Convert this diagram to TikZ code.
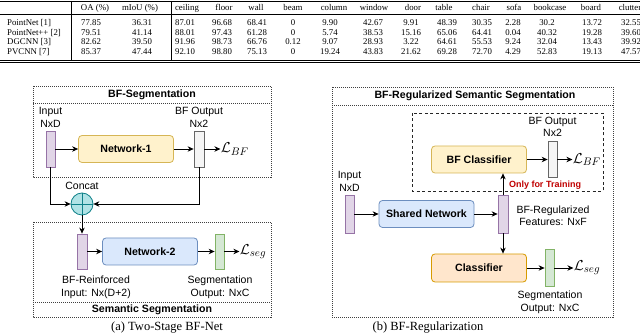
\documentclass[tikz,border=0pt]{standalone}
\usepackage{fontspec}
\setmainfont{Liberation Serif}
\setsansfont{Liberation Sans}
\usepackage{amsmath}
\usetikzlibrary{positioning,arrows.meta}

\definecolor{purfill}{HTML}{E1D5E7}\definecolor{purline}{HTML}{9673A6}
\definecolor{yelfill}{HTML}{FFF2CC}\definecolor{yelline}{HTML}{D6B656}
\definecolor{gryfill}{HTML}{F5F5F5}\definecolor{gryline}{HTML}{666666}
\definecolor{blufill}{HTML}{DAE8FC}\definecolor{bluline}{HTML}{6C8EBF}
\definecolor{grnfill}{HTML}{D5E8D4}\definecolor{grnline}{HTML}{82B366}
\definecolor{orgfill}{HTML}{FFE6CC}\definecolor{orgline}{HTML}{D79B00}
\definecolor{catfill}{HTML}{B0E3E6}\definecolor{catline}{HTML}{0E8088}
\definecolor{trainred}{HTML}{C00000}

% x positions of the table columns
\def\headx{{95,140,187,224,256,293,334,374,413,444,481,514,550,591,630}}
\def\colx{{91,142,185,222,257,293,330,373,411,447,482,513,547,592,631}}
\newcommand{\tabrow}[4]{% row id, baseline, name, values
  \node[tabtxt, anchor=base west] (r#1name) at (7,#2) {#3};
  \foreach \v [count=\i from 0] in {#4} {
    \pgfmathsetmacro\xx{\colx[\i]}
    \node[tabtxt, anchor=base] (r#1c\i) at (\xx,#2) {\v};}}

\begin{document}
\begin{tikzpicture}[x=1pt, y=-1pt,
    tabtxt/.style={font=\rmfamily\fontsize{8.8}{10}\selectfont, inner sep=0pt},
    bar/.style={draw, line width=0.8pt, minimum width=9pt, minimum height=36pt, inner sep=0pt},
    purp/.style={fill=purfill, draw=purline},
    gry/.style={fill=gryfill, draw=gryline},
    grn/.style={fill=grnfill, draw=grnline},
    net/.style={draw, rounded corners=3.5pt, line width=0.8pt, minimum width=95pt, minimum height=27pt,
        font=\sffamily\bfseries\fontsize{10.6}{12}\selectfont},
    yel/.style={fill=yelfill, draw=yelline},
    blu/.style={fill=blufill, draw=bluline},
    org/.style={fill=orgfill, draw=orgline},
    lbl/.style={font=\sffamily\fontsize{10.5}{12.5}\selectfont, align=center, inner sep=0pt},
    ttl/.style={font=\sffamily\bfseries\fontsize{10.6}{12}\selectfont, inner sep=0pt},
    loss/.style={font=\fontsize{15}{17}\selectfont, inner sep=0.3pt},
    captxt/.style={font=\rmfamily\fontsize{12.5}{14}\selectfont, inner sep=0pt},
    train/.style={font=\sffamily\bfseries\fontsize{9}{11}\selectfont, text=trainred, inner sep=0pt},
    grp/.style={draw=black!75, line width=0.6pt, dash pattern=on 1pt off 1pt},
    trainbox/.style={draw=black!85, line width=0.9pt, dash pattern=on 3pt off 2.5pt},
    arr/.style={-{Stealth[length=6pt,width=5.5pt]}, line width=0.8pt}
]
\useasboundingbox (0,0) rectangle (640,336);

% results table
\draw[line width=0.9pt] (0,1) -- (640,1);
\draw[line width=0.5pt] (0,14) -- (640,14);
\draw[line width=0.5pt] (0,60) -- (640,60) (0,62.5) -- (640,62.5);
\draw[line width=0.5pt] (71,1) -- (71,60) (171,1) -- (171,60);
\foreach \h [count=\i from 0] in {OA (\%),mIoU (\%),ceiling,floor,wall,beam,column,window,door,table,chair,sofa,bookcase,board,clutter} {
  \pgfmathsetmacro\xx{\headx[\i]}
  \node[tabtxt, anchor=base] (h\i) at (\xx,11) {\h};}
\tabrow{1}{25.6}{PointNet [1]}{77.85,36.31,87.01,96.68,68.41,0,9.90,42.67,9.91,48.39,30.35,2.28,30.2,13.72,32.55}
\tabrow{2}{35.3}{PointNet++ [2]}{79.51,41.14,88.01,97.43,61.28,0,5.74,38.53,15.16,65.06,64.41,0.04,40.32,19.28,39.60}
\tabrow{3}{45}{DGCNN [3]}{82.62,39.50,91.96,98.73,66.76,0.12,9.07,28.93,3.22,64.61,55.53,9.24,32.04,13.43,39.92}
\tabrow{4}{54.7}{PVCNN [7]}{85.37,47.44,92.10,98.80,75.13,0,19.24,43.83,21.62,69.28,72.70,4.29,52.83,19.13,47.57}

% (a) two-stage net, first stage
\draw[grp] (33,86) rectangle (271,177);
\draw[grp] (33,103) -- (271,103);
\node[ttl] (segttl) at (152,95) {BF-Segmentation};
\node[bar, purp] (inA) at (50.5,149) {};
\node[net, yel] (net1) at (126,149) {Network-1};
\node[bar, gry, minimum width=10pt] (bfA) at (199,149) {};
\node[lbl, above=3pt of inA] (inAlbl) {Input\\NxD};
\node[lbl, above=3pt of bfA] (bfAlbl) {BF Output\\Nx2};
\node[loss, right=16pt of bfA] (lbfA) {$\mathcal{L}_{BF}$};
% concat
\node[circle, fill=catfill, draw=catline, line width=0.8pt, minimum size=22pt, inner sep=0pt] (cat) at (82,204) {};
\draw[draw=catline, line width=0.8pt] (cat.north) -- (cat.south) (cat.west) -- (cat.east);
\node[lbl, above=3pt of cat] (catlbl) {Concat};
% (a) second stage
\draw[grp] (33,222) rectangle (271,317);
\draw[grp] (33,302) -- (271,302);
\node[ttl] (semttl) at (152,309.5) {Semantic Segmentation};
\node[bar, purp, minimum width=10pt, minimum height=35pt] (inB) at (82,251.5) {};
\node[net, blu] (net2) at (150,251.5) {Network-2};
\node[bar, grn, minimum height=35pt] (segA) at (219.5,251.5) {};
\node[loss, right=15pt of segA] (lsegA) {$\mathcal{L}_{seg}$};
\node[lbl, anchor=north] (inBlbl) at (96,276) {BF-Reinforced\\Input: Nx(D+2)};
\node[lbl, anchor=north] (segAlbl) at (220,276) {Segmentation\\Output: NxC};
\node[captxt] (capA) at (167,328) {(a) Two-Stage BF-Net};
\draw[arr] (inA) -- (net1);
\draw[arr] (net1) -- (bfA);
\draw[arr] (bfA) -- (lbfA);
\draw[arr] (inA.south) |- (cat.west);
\draw[arr] (bfA.south) |- (cat.east);
\draw[arr] (cat) -- (inB);
\draw[arr] (inB) -- (net2);
\draw[arr] (net2) -- (segA);
\draw[arr] (segA) -- (lsegA);

% (b) regularized net
\draw[grp] (332,87) rectangle (613,317);
\draw[grp] (332,105) -- (613,105);
\node[ttl] (regttl) at (475,96) {BF-Regularized Semantic Segmentation};
\draw[trainbox] (412,113) rectangle (603,191);
\node[net, yel] (bfcls) at (479,159.5) {BF Classifier};
\node[bar, gry] (bfB) at (552.5,159.5) {};
\node[lbl, above=4pt of bfB] (bfBlbl) {BF Output\\Nx2};
\node[loss, right=15pt of bfB] (lbfB) {$\mathcal{L}_{BF}$};
\node[train] (trainlbl) at (545,185) {Only for Training};
\node[bar, purp, minimum height=38pt] (inC) at (349.5,214) {};
\node[lbl, above=3pt of inC] (inClbl) {Input\\NxD};
\node[net, blu] (shnet) at (426.5,214) {Shared Network};
\node[bar, purp, minimum width=10pt, minimum height=38pt] (regbar) at (503,214) {};
\node[lbl] (reglbl) at (553,216) {BF-Regularized\\Features: NxF};
\node[net, org, minimum height=28pt] (cls) at (479,268) {Classifier};
\node[bar, grn, minimum height=37pt] (segB) at (549.5,268) {};
\node[loss, right=19pt of segB] (lsegB) {$\mathcal{L}_{seg}$};
\node[lbl, anchor=north] (segBlbl) at (550,291) {Segmentation\\Output: NxC};
\node[captxt] (capB) at (428,328) {(b) BF-Regularization};
\draw[arr] (inC) -- (shnet);
\draw[arr] (shnet) -- (regbar);
\draw[arr] (regbar.north) -- (regbar.north |- bfcls.south);
\draw[arr] (regbar.south) -- (regbar.south |- cls.north);
\draw[arr] (bfcls) -- (bfB);
\draw[arr] (bfB) -- (lbfB);
\draw[arr] (cls) -- (segB);
\draw[arr] (segB) -- (lsegB);
\end{tikzpicture}
\end{document}
